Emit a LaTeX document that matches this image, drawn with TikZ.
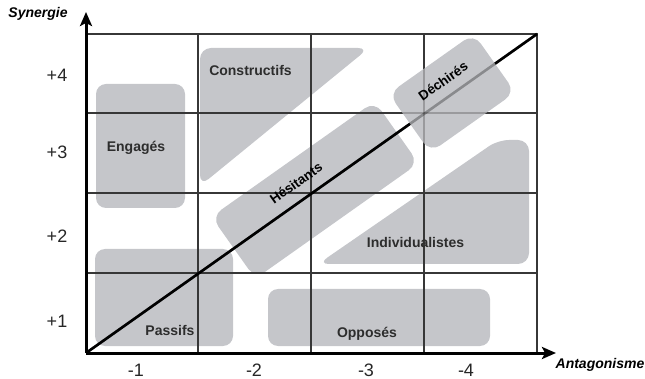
\documentclass[tikz,border=0pt]{standalone}
\usepackage{fontspec}
\setmainfont{Liberation Sans}
\usetikzlibrary{arrows.meta}
\definecolor{blobgray}{RGB}{197,198,202}
\definecolor{gridgray}{RGB}{55,55,55}
\definecolor{labelgray}{RGB}{45,45,45}
\tikzset{
  blob/.style={fill=blobgray, draw=none, rounded corners=10pt, inner sep=0pt, outer sep=0pt},
  gridline/.style={draw=gridgray, line width=1.3pt},
  axisline/.style={line width=3pt, -{Stealth[length=14pt,width=12pt,inset=3pt]}},
  boxlabel/.style={font=\fontsize{14}{16}\selectfont\bfseries, text=labelgray, inner sep=0pt, anchor=base},
  ticklabel/.style={font=\fontsize{18}{20}\selectfont, inner sep=0pt, anchor=base, text=black!85},
  axislabel/.style={font=\fontsize{14}{16}\selectfont\bfseries\itshape, inner sep=0pt, anchor=base},
  difflabel/.style={font=\fontsize{13.5}{16}\selectfont\bfseries, text=black, inner sep=0pt, rotate=35.26},
}
\begin{document}
\begin{tikzpicture}[x=1pt,y=-1pt]
\useasboundingbox (0,0) rectangle (645,379);
% key coordinates
\coordinate (O) at (86,353);
\coordinate (TL) at (86,34);
\coordinate (TR) at (537,34);
\coordinate (BR) at (537,353);
\coordinate (Ytip) at (86,12);
\coordinate (Xtip) at (556,353);
\coordinate (v1t) at (198,34);  \coordinate (v1b) at (198,353);
\coordinate (v2t) at (311,34);  \coordinate (v2b) at (311,353);
\coordinate (v3t) at (424,34);  \coordinate (v3b) at (424,353);
\coordinate (h1l) at (86,113);  \coordinate (h1r) at (537,113);
\coordinate (h2l) at (86,193);  \coordinate (h2r) at (537,193);
\coordinate (h3l) at (86,273);  \coordinate (h3r) at (537,273);

% gray regions
\node[blob, minimum width=89pt, minimum height=124pt] (engbox) at (140.5,146) {};
\node[blob, minimum width=138pt, minimum height=97pt] (pasbox) at (164,297.5) {};
\node[blob, minimum width=222pt, minimum height=57pt] (oppbox) at (379,317.5) {};
\node[blob, rounded corners=12pt, minimum width=200pt, minimum height=76pt, rotate=35.26] (hesbox) at (315,190) {};
\fill[blobgray, rounded corners=11pt] (200,48) -- (369,48) -- (200,186) -- cycle;
\fill[blobgray, rounded corners=11pt] (318,264) -- (529,264) -- (529,140) -- (498,140) -- cycle;

% grid
\draw[gridline] (TL) -- (TR) -- (BR);
\draw[gridline] (v1t) -- (v1b);
\draw[gridline] (v2t) -- (v2b);
\draw[gridline] (v3t) -- (v3b);
\draw[gridline] (h1l) -- (h1r);
\draw[gridline] (h2l) -- (h2r);
\draw[gridline] (h3l) -- (h3r);

% diagonal
\draw[line width=2.6pt] (O) -- (TR);

% Dechires box on top; lines show faintly through it
\node[blob, rounded corners=12pt, minimum width=104pt, minimum height=72pt, rotate=35.26] (decbox) at (452,93) {};
\begin{scope}[opacity=0.3]
  \draw[gridline] (v3t) -- (v3b);
  \draw[gridline] (h1l) -- (h1r);
  \draw[line width=2.6pt] (O) -- (TR);
\end{scope}

% axes
\draw[axisline] (O) -- (Ytip);
\draw[axisline] (O) -- (Xtip);

% axis labels
\node[axislabel] (syn) at (38,18) {Synergie};
\node[axislabel] (ant) at (600,368) {Antagonisme};

% tick labels
\node[ticklabel] (p4) at (57,82) {+4};
\node[ticklabel] (p3) at (57,159) {+3};
\node[ticklabel] (p2) at (57,243) {+2};
\node[ticklabel] (p1) at (57,327) {+1};
\node[ticklabel] (m1) at (136,376) {-1};
\node[ticklabel] (m2) at (254,376) {-2};
\node[ticklabel] (m3) at (366,376) {-3};
\node[ticklabel] (m4) at (466,376) {-4};

% region labels
\node[boxlabel] (eng) at (136,152) {Engagés};
\node[boxlabel] (con) at (250.5,76) {Constructifs};
\node[boxlabel] (pas) at (170,335) {Passifs};
\node[boxlabel] (opp) at (367,337) {Opposés};
\node[boxlabel] (ind) at (415.5,248) {Individualistes};
\node[difflabel] (hes) at (296,183) {Hésitants};
\node[difflabel] (dec) at (443,81) {Déchirés};
\end{tikzpicture}
\end{document}
